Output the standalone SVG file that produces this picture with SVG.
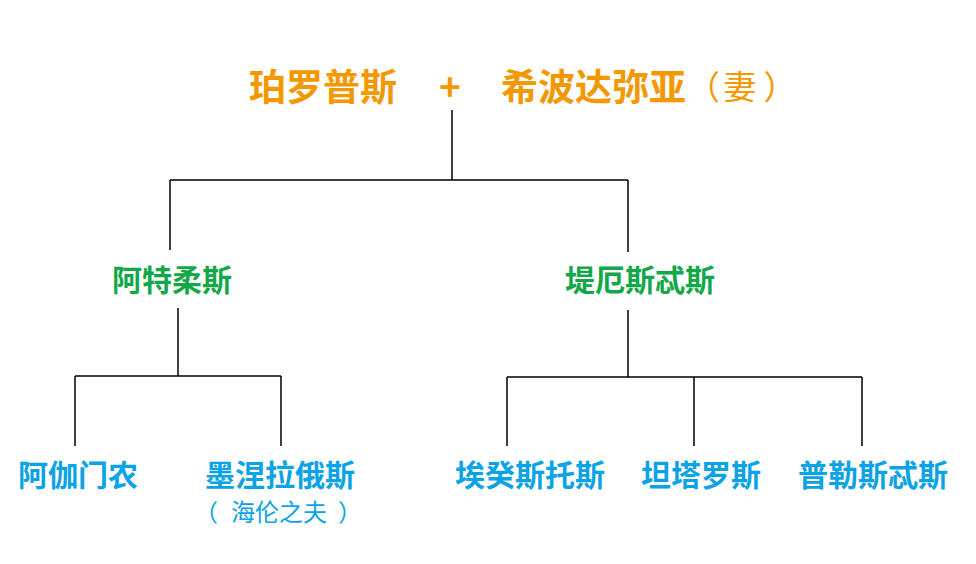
<svg xmlns="http://www.w3.org/2000/svg" width="976" height="564" viewBox="0 0 976 564">
<style>
text{font-family:"Noto Sans CJK SC","Noto Sans",sans-serif;text-anchor:middle}
.st{text-anchor:start}
.t{fill:#F39800;font-size:37px;font-weight:bold}
.w{fill:#F39800;font-size:33px;font-weight:normal}
.g{fill:#12A84A;font-size:30px;font-weight:bold}
.b{fill:#0AA3E6;font-size:30px;font-weight:bold}
.s{fill:#0AA3E6;font-size:24px;font-weight:normal}
.c{stroke:#000;stroke-width:1.5;fill:none}
</style>
<rect width="976" height="564" fill="#fff"/>
<g id="connectors">
<path class="c" d="M452 110V180M170 180H628M170 180V250M628 180V252"/>
<path class="c" d="M178 308V376M75 376H281M75 376V446M281 376V446"/>
<path class="c" d="M628 310V377M507 377H862M507 377V446M694 377V446M862 377V446"/>
</g>
<g id="parents">
<text class="t" x="323" y="101">珀罗普斯</text>
<text class="t" x="450" y="101">+</text>
<text class="t st" x="501" y="101">希波达弥亚<tspan class="w" dx="1" dy="-2">（</tspan><tspan class="w" dx="3.5">妻</tspan><tspan class="w" dx="7">）</tspan></text>
</g>
<g id="atreus"><text class="g" x="172" y="291">阿特柔斯</text></g>
<g id="thyestes"><text class="g" x="640" y="291">堤厄斯忒斯</text></g>
<g id="agamemnon"><text class="b" x="78" y="486">阿伽门农</text></g>
<g id="menelaus">
<text class="b" x="280" y="486">墨涅拉俄斯</text>
<text class="s st" x="194" y="521">（<tspan dx="13">海伦之夫</tspan><tspan dx="11">）</tspan></text>
</g>
<g id="aegisthus"><text class="b" x="530" y="486">埃癸斯托斯</text></g>
<g id="tantalus"><text class="b" x="701" y="486">坦塔罗斯</text></g>
<g id="pleisthenes"><text class="b" x="873" y="486">普勒斯忒斯</text></g>
</svg>
